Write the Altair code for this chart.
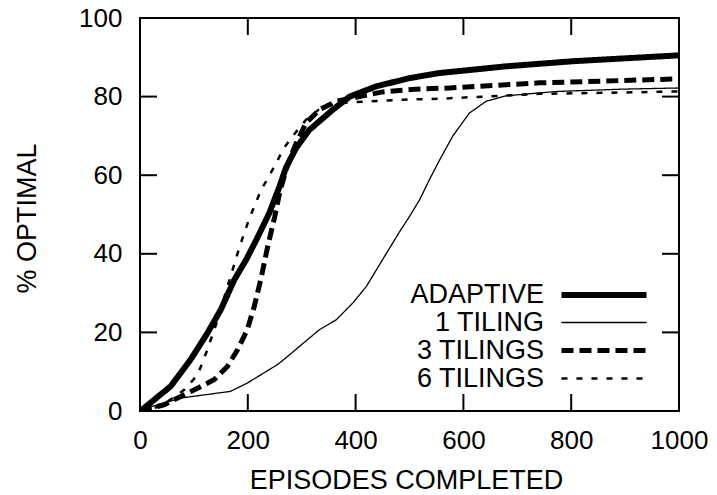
import altair as alt
import pandas as pd

# ---- data ----
series_names = ["ADAPTIVE", "1 TILING", "3 TILINGS", "6 TILINGS"]

adaptive_x = [0, 8, 57, 94, 125, 150, 175, 197, 216, 240, 259, 271, 290, 314, 358, 389, 438, 500, 556, 679, 803, 1000]
adaptive_y = [0, 0.8, 6.3, 13.1, 19.8, 25.8, 33.4, 38.5, 43.6, 50.4, 57.2, 62.0, 67.0, 71.5, 76.7, 80.0, 82.6, 84.7, 86.0, 87.7, 89.0, 90.5]

tiling1_x = [0, 14, 76, 168, 199, 224, 255, 274, 292, 333, 364, 395, 420, 450, 482, 500, 519, 537, 556, 580, 611, 642, 679, 772, 896, 1000]
tiling1_y = [0, 0.8, 3.3, 5.0, 7.1, 9.2, 11.8, 13.9, 16.0, 20.7, 23.2, 27.5, 31.7, 38.5, 45.7, 49.5, 53.8, 58.9, 63.9, 69.9, 75.8, 78.8, 80.2, 81.3, 81.9, 82.2]

tiling3_x = [0, 45, 101, 138, 162, 181, 199, 212, 224, 237, 250, 259, 271, 287, 308, 333, 364, 407, 450, 512, 574, 741, 1000]
tiling3_y = [0, 1.6, 5.4, 8.0, 11.3, 15.6, 20.7, 26.6, 33.4, 41.9, 49.5, 55.5, 61.4, 67.3, 73.3, 76.7, 78.8, 80.0, 81.2, 81.9, 82.2, 83.5, 84.5]

tiling6_x = [0, 39, 82, 107, 125, 144, 162, 185, 203, 225, 253, 265, 283, 308, 339, 376, 426, 488, 562, 741, 1000]
tiling6_y = [0, 1.2, 5.4, 9.2, 15.6, 23.2, 31.5, 41.9, 49.1, 56.3, 63.1, 66.5, 69.9, 74.1, 77.5, 78.4, 78.8, 79.2, 79.5, 80.7, 81.3]

x_ticks = [0, 200, 400, 600, 800, 1000]
y_ticks = [0, 20, 40, 60, 80, 100]

# ---- build table ----
rows = []
for name, xs, ys in [
    ("1 TILING", tiling1_x, tiling1_y),
    ("6 TILINGS", tiling6_x, tiling6_y),
    ("3 TILINGS", tiling3_x, tiling3_y),
    ("ADAPTIVE", adaptive_x, adaptive_y),
]:
    for x, y in zip(xs, ys):
        rows.append({"series": name, "episodes": x, "optimal": y})
df = pd.DataFrame(rows)

W, H = 539, 393
FONT = "Liberation Sans"
FS = 26
TFS = 27
TICK = 17

xscale = alt.Scale(domain=[0, 1000], nice=False, zero=False)
yscale = alt.Scale(domain=[0, 100], nice=False, zero=False)

x_axis = alt.Axis(
    values=x_ticks,
    format="d",
    title="EPISODES COMPLETED",
    grid=False,
    ticks=False,
    tickSize=0,
    domain=False,
    labelFont=FONT,
    labelFontSize=FS,
    labelColor="black",
    labelPadding=16,
    labelFlush=False,
    titleFont=FONT,
    titleFontSize=TFS,
    titleFontWeight="normal",
    titleColor="black",
    titleAlign="center",
    titleBaseline="alphabetic",
    titleX=266,
    titleY=77,
)
y_axis = alt.Axis(
    values=y_ticks,
    format="d",
    title="% OPTIMAL",
    grid=False,
    ticks=False,
    tickSize=0,
    domain=False,
    labelFont=FONT,
    labelFontSize=FS,
    labelColor="black",
    labelPadding=18,
    labelFlush=False,
    titleFont=FONT,
    titleFontSize=TFS,
    titleFontWeight="normal",
    titleColor="black",
    titleAngle=270,
    titleAlign="center",
    titleBaseline="alphabetic",
    titleX=-105,
    titleY=200,
)

legend = alt.Legend(
    title=None,
    orient="none",
    legendX=374.5,
    legendY=263,
    padding=0,
    labelFont=FONT,
    labelFontSize=27,
    labelColor="black",
    labelAlign="right",
    labelOffset={"expr": "-74"},
    symbolType="M-4,0H4",
    symbolSize=452,
    symbolOffset=75.5,
    symbolStrokeColor="black",
    rowPadding=0,
)

lines = alt.Chart(df).mark_line(color="black", strokeCap="butt", strokeJoin="round", clip=True).encode(
    x=alt.X("episodes:Q", scale=xscale, axis=x_axis),
    y=alt.Y("optimal:Q", scale=yscale, axis=y_axis),
    strokeDash=alt.StrokeDash(
        "series:N",
        scale=alt.Scale(domain=series_names, range=[[1, 0], [1, 0], [12, 6], [6, 9]]),
        legend=legend,
    ),
    strokeWidth=alt.StrokeWidth(
        "series:N",
        scale=alt.Scale(type="ordinal", domain=series_names, range=[6, 1.3, 5, 2.5]),
        legend=legend,
    ),
)

xt = pd.DataFrame({"t": x_ticks})
yt = pd.DataFrame({"t": y_ticks})

bottom_ticks = alt.Chart(xt).mark_rule(color="black", strokeWidth=2).encode(
    x=alt.X("t:Q", scale=xscale, axis=x_axis), y=alt.value(H), y2=alt.value(H - TICK)
)
top_ticks = alt.Chart(xt).mark_rule(color="black", strokeWidth=2).encode(
    x=alt.X("t:Q", scale=xscale, axis=x_axis), y=alt.value(0), y2=alt.value(TICK)
)
left_ticks = alt.Chart(yt).mark_rule(color="black", strokeWidth=2).encode(
    y=alt.Y("t:Q", scale=yscale, axis=y_axis), x=alt.value(0), x2=alt.value(TICK)
)
right_ticks = alt.Chart(yt).mark_rule(color="black", strokeWidth=2).encode(
    y=alt.Y("t:Q", scale=yscale, axis=y_axis), x=alt.value(W), x2=alt.value(W - TICK)
)

chart = (
    alt.layer(lines, bottom_ticks, top_ticks, left_ticks, right_ticks)
    .properties(
        width=W,
        height=H,
        autosize=alt.AutoSizeParams(type="none"),
        padding={"left": 140, "top": 18, "right": 38, "bottom": 84},
        background="white",
    )
    .configure_view(stroke="black", strokeWidth=2)
)

chart.save("out.html", embed_options={"renderer": "svg", "actions": False})
